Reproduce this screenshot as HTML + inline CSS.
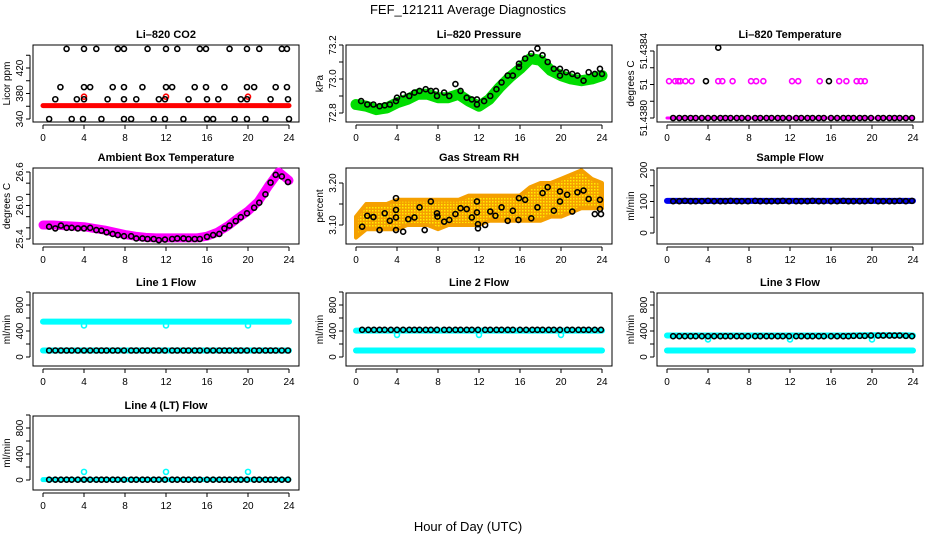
<!DOCTYPE html>
<html><head><meta charset="utf-8"><style>
html,body{margin:0;padding:0;background:#fff;}
svg{display:block;font-family:"Liberation Sans",Arial,sans-serif;}
</style></head><body>
<svg id="chart" width="936" height="540" viewBox="0 0 936 540" xmlns="http://www.w3.org/2000/svg">
<text x="468" y="14" text-anchor="middle" font-size="13">FEF_121211  Average Diagnostics</text>
<text x="468" y="531" text-anchor="middle" font-size="13">Hour of Day (UTC)</text>
</svg>
<script>
// ---- data ----
const hours=[0,1,2,3,4,5,6,7,8,9,10,11,12,13,14,15,16,17,18,19,20,21,22,23,24];
const xTicks=[0,4,8,12,16,20,24];
const sampleTimes=[0.6,1.2,1.75,2.3,2.8,3.4,4.0,4.6,5.2,5.7,6.2,6.8,7.3,7.9,8.6,9.1,9.7,10.2,10.8,11.3,11.9,12.6,13.1,13.7,14.2,14.8,15.3,16.0,16.6,17.2,17.7,18.2,18.8,19.3,19.9,20.6,21.1,21.7,22.2,22.7,23.3,23.9];
const blipTimes=[4,12,20];

// CO2
const co2Times=[2.3,4.0,5.2,7.3,7.9,10.2,12.0,13.1,15.3,15.9,18.2,19.9,21.1,23.3,23.8,
1.7,4.0,4.6,6.8,7.9,9.7,12.0,12.6,14.8,15.9,17.7,19.9,20.6,22.7,23.8,
1.2,3.3,4.0,6.3,7.9,9.1,11.3,11.9,14.2,16.0,17.1,19.3,19.9,22.2,23.9,
0.6,2.8,3.9,5.7,7.9,8.6,10.8,11.9,13.7,16.0,16.6,18.7,19.9,21.7,24.0];
const co2Vals=[450,450,450,450,450,450,450,450,450,450,450,450,450,450,450,
390,390,390,390,390,390,390,390,390,390,390,390,390,390,390,
371,371,371,371,371,371,371,371,371,371,371,371,371,371,371,
340,340,340,340,340,340,340,340,340,340,340,340,340,340,340];
const co2Red=[361,361,361,361,361,361,361,361,361,361,361,361,361,361,361,361,361,361,361,361,361,361,361,361,361];
const co2RedBlips=[375,375,375];

// Pressure
const presTimes=[0.5,1.1,1.7,2.3,2.8,3.3,3.9,4.0,4.6,5.2,5.7,6.2,6.8,7.3,7.8,7.9,8.6,9.1,9.7,10.2,10.8,11.3,11.8,11.8,12.5,13.1,13.7,14.2,14.8,15.3,15.9,15.9,16.5,17.1,17.7,18.2,18.7,19.3,19.9,19.9,20.5,21.1,21.6,22.2,22.7,23.3,23.8,24];
const presVals=[72.87,72.85,72.85,72.84,72.845,72.85,72.87,72.89,72.91,72.90,72.92,72.93,72.94,72.93,72.93,72.90,72.92,72.90,72.97,72.93,72.89,72.88,72.88,72.85,72.87,72.90,72.94,72.98,73.02,73.02,73.07,73.09,73.12,73.15,73.18,73.14,73.10,73.06,73.06,73.02,73.04,73.03,73.02,72.99,73.04,73.03,73.06,73.03];
const presGreen=[72.85,72.84,72.82,72.83,72.86,72.88,72.91,72.91,72.89,72.89,72.91,72.87,72.84,72.88,72.95,73.01,73.06,73.12,73.11,73.05,73.02,73.00,72.99,73.00,73.02];

// Li-820 temperature
const tempPinkTimes=[0.2,0.8,1.1,1.3,1.8,2.4,5.0,5.4,6.4,8.2,8.7,9.4,12.2,12.8,14.9,16.8,17.5,18.5,18.9,19.3];
const tempPinkVals=[51.43822,51.43822,51.43822,51.43822,51.43822,51.43822,51.43822,51.43822,51.43822,51.43822,51.43822,51.43822,51.43822,51.43822,51.43822,51.43822,51.43822,51.43822,51.43822,51.43822];
const tempPinkBase=[51.4380,51.4380,51.4380,51.4380,51.4380,51.4380,51.4380,51.4380,51.4380,51.4380,51.4380,51.4380,51.4380,51.4380,51.4380,51.4380,51.4380,51.4380,51.4380,51.4380,51.4380,51.4380,51.4380,51.4380,51.4380];
const tempBlackVals=[51.4380,51.4380,51.4380,51.4380,51.4380,51.4380,51.4380,51.4380,51.4380,51.4380,51.4380,51.4380,51.4380,51.4380,51.4380,51.4380,51.4380,51.4380,51.4380,51.4380,51.4380,51.4380,51.4380,51.4380,51.4380,51.4380,51.4380,51.4380,51.4380,51.4380,51.4380,51.4380,51.4380,51.4380,51.4380,51.4380,51.4380,51.4380,51.4380,51.4380,51.4380,51.4380];
const tempOutTimes=[3.8,15.8,5.0];
const tempOutVals=[51.43822,51.43822,51.43842];

// Ambient box temperature
const ambVals=[25.62,25.59,25.64,25.60,25.60,25.59,25.59,25.60,25.56,25.55,25.52,25.49,25.47,25.45,25.45,25.41,25.41,25.40,25.40,25.38,25.39,25.40,25.41,25.41,25.40,25.40,25.40,25.44,25.47,25.49,25.59,25.64,25.72,25.79,25.86,25.96,26.05,26.20,26.41,26.55,26.52,26.42];
const ambPink=[25.65,25.65,25.64,25.63,25.62,25.59,25.56,25.52,25.48,25.45,25.43,25.42,25.42,25.42,25.42,25.42,25.45,25.52,25.63,25.77,25.90,26.07,26.35,26.60,26.45];

// Gas stream RH
const rhTimes=[0.6,1.1,1.7,2.3,2.8,3.3,3.9,3.9,3.9,3.9,4.6,5.1,5.7,6.2,6.7,7.3,7.9,7.95,8.6,9.1,9.7,10.2,10.8,11.3,11.8,11.8,11.9,11.9,12.6,13.1,13.6,14.2,14.8,15.3,15.9,15.85,16.5,17.1,17.7,18.2,18.7,19.3,19.9,19.9,20.6,21.1,21.6,22.2,22.7,23.3,23.8,23.8,23.9];
const rhVals=[3.096,3.122,3.119,3.088,3.128,3.110,3.164,3.136,3.118,3.088,3.084,3.114,3.118,3.142,3.088,3.156,3.128,3.120,3.108,3.112,3.126,3.140,3.138,3.118,3.156,3.130,3.102,3.092,3.100,3.132,3.122,3.142,3.110,3.134,3.164,3.112,3.160,3.116,3.142,3.176,3.190,3.134,3.156,3.180,3.172,3.132,3.178,3.182,3.162,3.126,3.160,3.138,3.126];
const rhLow=[3.07,3.09,3.09,3.09,3.09,3.10,3.10,3.10,3.09,3.10,3.10,3.10,3.10,3.11,3.11,3.11,3.11,3.11,3.11,3.12,3.12,3.13,3.14,3.14,3.14];
const rhHigh=[3.12,3.15,3.15,3.15,3.16,3.16,3.16,3.16,3.16,3.16,3.16,3.17,3.17,3.17,3.17,3.17,3.17,3.19,3.20,3.20,3.21,3.22,3.23,3.21,3.20];

// Sample flow
const sampleBlue=[102,102,102,102,102,102,102,102,102,102,102,102,102,102,102,102,102,102,102,102,102,102,102,102,102];
const sampleBlack=[101,101,102,101,101,101,102,101,101,101,102,101,101,101,102,101,101,101,101,102,101,101,101,101,102,101,101,101,101,102,101,101,101,101,102,101,101,101,101,102,101,102];

// Line flows
const flowConst100=[100,100,100,100,100,100,100,100,100,100,100,100,100,100,100,100,100,100,100,100,100,100,100,100,100];
const line1Cyan=[545,545,545,545,545,545,545,545,545,545,545,545,545,545,545,545,545,545,545,545,545,545,545,545,545];
const line1Blips=[485,485,485];
const line1Black=[100,100,100,100,100,100,100,100,100,100,100,100,100,100,100,100,100,100,100,100,100,100,100,100,100,100,100,100,100,100,100,100,100,100,100,100,100,100,100,100,100,100];
const line2Cyan=[405,405,405,405,405,405,405,405,405,405,405,405,405,405,405,405,405,405,405,405,405,405,405,405,405];
const line2Blips=[340,340,340];
const line2Black=[418,418,418,418,418,418,418,418,418,418,418,418,418,418,418,418,418,418,418,418,418,418,418,418,418,418,418,418,418,418,418,418,418,418,418,418,418,418,418,418,418,418];
const line3Cyan=[330,330,330,330,330,330,330,330,330,330,330,330,330,330,330,330,330,330,330,335,335,335,335,335,330];
const line3Blips=[270,270,270];
const line3Black=[320,320,320,320,320,320,320,320,320,320,320,320,320,320,320,320,320,320,320,320,320,320,320,320,320,320,320,320,320,320,320,325,325,325,330,330,330,330,330,330,325,320];
const line4Cyan=[5,5,5,5,5,5,5,5,5,5,5,5,5,5,5,5,5,5,5,5,5,5,5,5,5];
const line4Blips=[125,125,125];
const line4Black=[5,5,5,5,5,5,5,5,5,5,5,5,5,5,5,5,5,5,5,5,5,5,5,5,5,5,5,5,5,5,5,5,5,5,5,5,5,5,5,5,5,5];

// ---- drawing ----
const svg=document.getElementById('chart');
const NS='http://www.w3.org/2000/svg';
const colLeft=[33,346,657];
const rowTop=[45,168,293,416];
const rowH=[77,76,73,74];
const boxW=266;
function mk(tag,parent){const e=document.createElementNS(NS,tag);parent.appendChild(e);return e;}

function panel(col,row,title,ylabel,v0,r0,v1,r1,ticks,labels,key){
  const L=colLeft[col],T=rowTop[row],H=rowH[row];
  const g=mk('g',svg);
  
  
  const x=h=>L+10+h*10.25;
  const y=v=>T+r0+(v-v0)*(r1-r0)/(v1-v0);
  const box=mk('rect',g);
  box.setAttribute('x',L);box.setAttribute('y',T);box.setAttribute('width',boxW);box.setAttribute('height',H);
  box.setAttribute('fill','none');box.setAttribute('stroke','#000');box.setAttribute('stroke-width','1');
  
  
  const t=mk('text',g);
  t.setAttribute('x',L+boxW/2);t.setAttribute('y',T-7);t.setAttribute('text-anchor','middle');
  t.setAttribute('font-size','11');t.setAttribute('font-weight','bold');t.textContent=title;
  
  
  const yl=mk('text',g);
  yl.setAttribute('transform','translate('+(L-23)+','+(T+H/2)+') rotate(-90)');
  yl.setAttribute('text-anchor','middle');yl.setAttribute('font-size','10');yl.textContent=ylabel;
  
  
  const xa=mk('line',g);
  xa.setAttribute('x1',x(0));xa.setAttribute('x2',x(24));xa.setAttribute('y1',T+H+3);xa.setAttribute('y2',T+H+3);xa.setAttribute('stroke','#000');
  
  
  xTicks.forEach(h=>{
    const tk=mk('line',g);
    tk.setAttribute('x1',x(h));tk.setAttribute('x2',x(h));tk.setAttribute('y1',T+H+3);tk.setAttribute('y2',T+H+7);tk.setAttribute('stroke','#000');
    
    
    const lb=mk('text',g);
    lb.setAttribute('x',x(h));lb.setAttribute('y',T+H+19);lb.setAttribute('text-anchor','middle');lb.setAttribute('font-size','10');lb.textContent=h;
    
    
  });
  const ya=mk('line',g);
  ya.setAttribute('x1',L-3);ya.setAttribute('x2',L-3);ya.setAttribute('y1',y(ticks[0]));ya.setAttribute('y2',y(ticks[ticks.length-1]));ya.setAttribute('stroke','#000');
  
  
  ticks.forEach((v,i)=>{
    const tk=mk('line',g);
    tk.setAttribute('x1',L-3);tk.setAttribute('x2',L-7);tk.setAttribute('y1',y(v));tk.setAttribute('y2',y(v));tk.setAttribute('stroke','#000');
    
    
    if(labels[i]!==''){
      const lb=mk('text',g);
      lb.setAttribute('transform','translate('+(L-10)+','+y(v)+') rotate(-90)');
      lb.setAttribute('text-anchor','middle');lb.setAttribute('font-size','10');lb.textContent=labels[i];
      
      
    }
  });
  return {g,x,y};
}
function band(p,times,vals,color,w,name){
  const e=mk('polyline',p.g);
  e.setAttribute('points',times.map((t,i)=>p.x(t)+','+p.y(vals[i])).join(' '));
  e.setAttribute('fill','none');e.setAttribute('stroke',color);e.setAttribute('stroke-width',w);
  e.setAttribute('stroke-linecap','round');e.setAttribute('stroke-linejoin','round');
  
  
}
function area(p,times,lo,hi,name){
  const pts=times.map((t,i)=>p.x(t)+','+p.y(hi[i])).concat(times.slice().reverse().map((t,j)=>p.x(t)+','+p.y(lo[times.length-1-j])));
  const e=mk('polygon',p.g);
  e.setAttribute('points',pts.join(' '));
  e.setAttribute('fill','url(#rhpat)');e.setAttribute('stroke','#f5a000');e.setAttribute('stroke-width','4');e.setAttribute('stroke-linejoin','round');
  
  
}
function dots(p,times,vals,color,name,r){
  times.forEach((t,i)=>{
    const c=mk('circle',p.g);
    c.setAttribute('cx',p.x(t));c.setAttribute('cy',p.y(vals[i]));c.setAttribute('r',r||2.5);
    c.setAttribute('fill','none');c.setAttribute('stroke',color);c.setAttribute('stroke-width','1.6');
    
    
  });
}
const defs=mk('defs',svg);
defs.innerHTML='<pattern id="rhpat" width="3" height="3" patternUnits="userSpaceOnUse"><rect width="3" height="3" fill="#f5a000"/><rect width="1.5" height="1.5" fill="#ffee00"/></pattern>';

const flowTicks=[0,200,400,600,800,1000], flowLabels=['0','','400','','800',''];

let p=panel(0,0,'Li\u2013820 CO2','Licor ppm',340,74,420,23,[340,360,380,400,420,440],['340','','380','','420',''],'co2');
band(p,hours,co2Red,'#ff0000',5,'co2-red-series');
dots(p,blipTimes,co2RedBlips,'#ff0000','co2-red-point');
dots(p,co2Times,co2Vals,'#000','co2-black-point');

p=panel(1,0,'Li\u2013820 Pressure','kPa',72.8,68,73.2,0,[72.8,72.9,73.0,73.1,73.2],['72.8','','73.0','','73.2'],'pressure');
band(p,hours,presGreen,'#00dd00',11,'pressure-green-series');
dots(p,presTimes,presVals,'#000','pressure-black-point');

p=panel(2,0,'Li\u2013820 Temperature','degrees C',51.4380,73,51.4384,6,[51.4380,51.4381,51.4382,51.4383,51.4384],['51.4380','','51','','51.4384'],'li820-temp');
band(p,hours,tempPinkBase,'#ff00ff',3,'li820-temp-pink-series');
dots(p,tempPinkTimes,tempPinkVals,'#ff00ff','li820-temp-pink-point');
dots(p,sampleTimes,tempBlackVals,'#000','li820-temp-black-point');
dots(p,tempOutTimes,tempOutVals,'#000','li820-temp-black-outlier');

p=panel(0,1,'Ambient Box Temperature','degrees C',25.4,71,26.6,4,[25.4,25.6,25.8,26.0,26.2,26.4,26.6],['25.4','','','26.0','','','26.6'],'ambient');
band(p,hours,ambPink,'#ff00ff',9,'ambient-pink-series');
dots(p,sampleTimes,ambVals,'#000','ambient-black-point');

p=panel(1,1,'Gas Stream RH','percent',3.10,57,3.20,15,[3.10,3.15,3.20],['3.10','','3.20'],'rh');
area(p,hours,rhLow,rhHigh,'rh-orange-series');
dots(p,rhTimes,rhVals,'#000','rh-black-point');

p=panel(2,1,'Sample Flow','ml/min',0,65,200,2,[0,50,100,150,200],['0','','100','','200'],'sample-flow');
band(p,hours,sampleBlue,'#0000ee',6,'sample-flow-blue-series');
dots(p,sampleTimes,sampleBlack,'#000','sample-flow-black-point');

p=panel(0,2,'Line 1 Flow','ml/min',0,64,800,12,flowTicks,flowLabels,'line1');
band(p,hours,line1Cyan,'#00ffff',6,'line1-cyan-upper');
dots(p,blipTimes,line1Blips,'#00ffff','line1-cyan-dip');
band(p,hours,flowConst100,'#00ffff',6,'line1-cyan-lower');
dots(p,sampleTimes,line1Black,'#000','line1-black-point');

p=panel(1,2,'Line 2 Flow','ml/min',0,64,800,12,flowTicks,flowLabels,'line2');
band(p,hours,line2Cyan,'#00ffff',6,'line2-cyan-upper');
dots(p,blipTimes,line2Blips,'#00ffff','line2-cyan-dip');
band(p,hours,flowConst100,'#00ffff',6,'line2-cyan-lower');
dots(p,sampleTimes,line2Black,'#000','line2-black-point');

p=panel(2,2,'Line 3 Flow','ml/min',0,64,800,12,flowTicks,flowLabels,'line3');
band(p,hours,line3Cyan,'#00ffff',6,'line3-cyan-upper');
dots(p,blipTimes,line3Blips,'#00ffff','line3-cyan-dip');
band(p,hours,flowConst100,'#00ffff',6,'line3-cyan-lower');
dots(p,sampleTimes,line3Black,'#000','line3-black-point');

p=panel(0,3,'Line 4 (LT) Flow','ml/min',0,64,800,12,flowTicks,flowLabels,'line4');
band(p,hours,line4Cyan,'#00ffff',5,'line4-cyan-series');
dots(p,blipTimes,line4Blips,'#00ffff','line4-cyan-blip');
dots(p,sampleTimes,line4Black,'#000','line4-black-point');
</script>
</body></html>
